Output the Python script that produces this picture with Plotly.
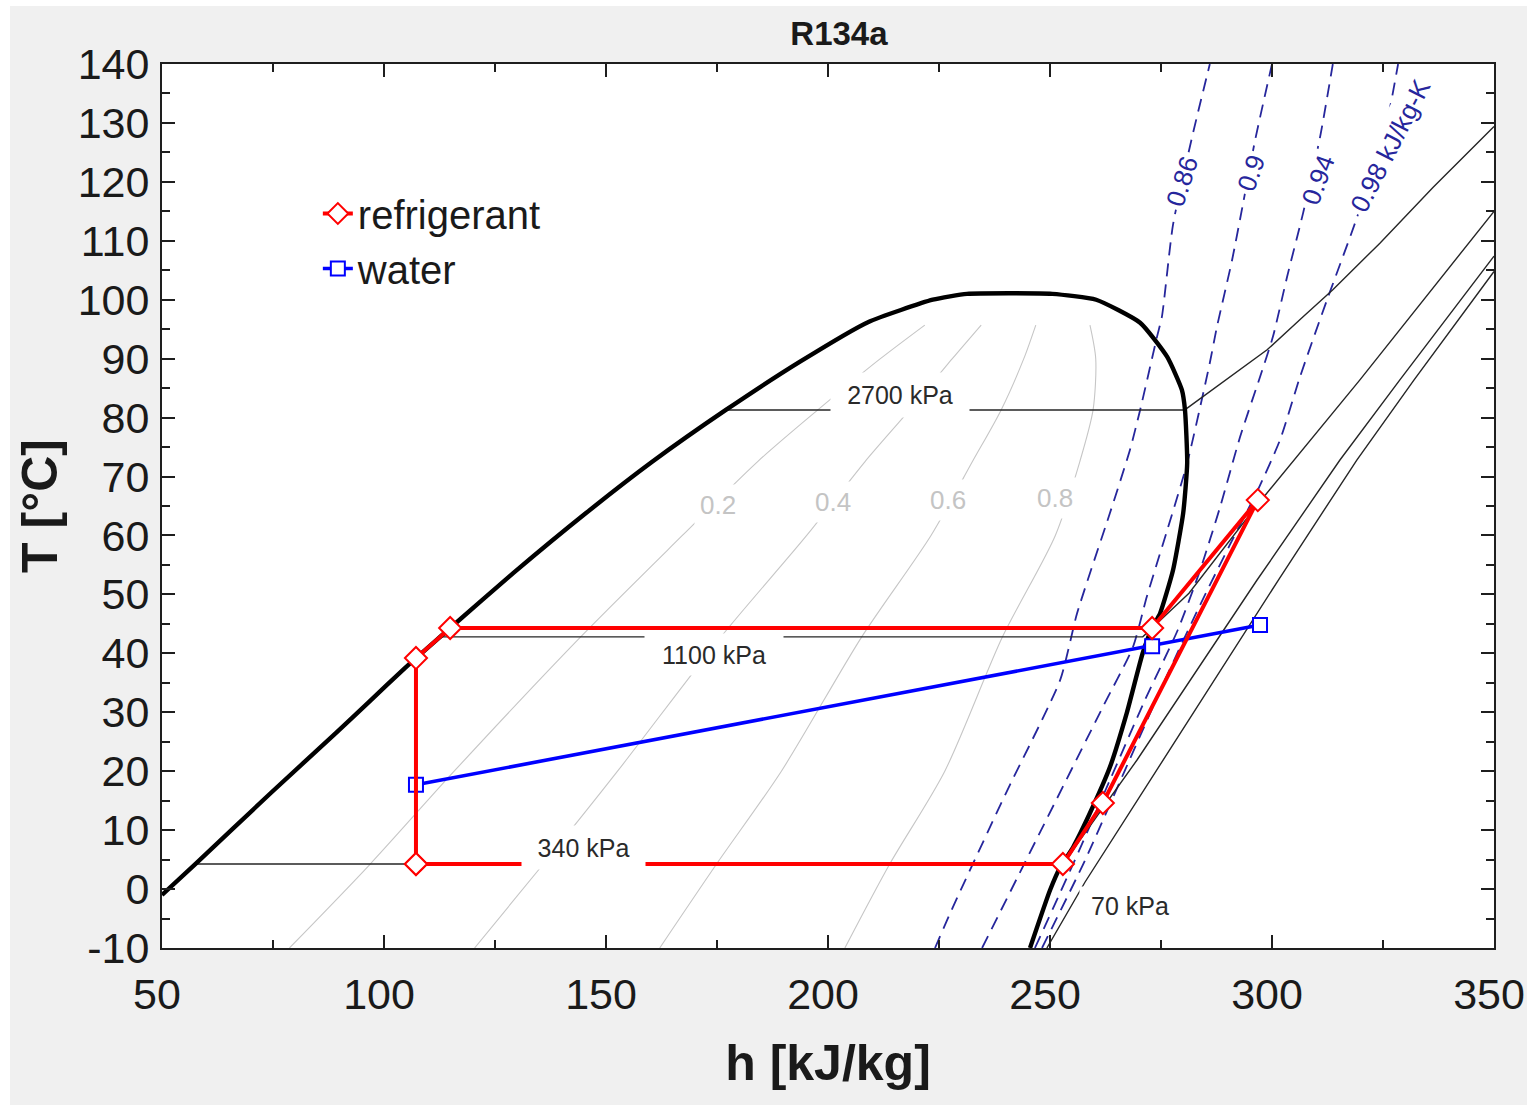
import plotly.graph_objects as go

# ---------------- data ----------------
# saturation dome (h kJ/kg, T degC)
DOME_H = [50.0, 57.5, 74.5, 89.2, 96.4, 104.7, 107.2, 114.9, 129.1, 145.5, 160.4, 177.0,
          193.7, 209.0, 223.6, 231.3, 241.0, 250.5, 260.4, 270.3, 276.4, 279.7, 280.4,
          280.9, 280.0, 277.7, 274.8, 273.0, 270.9, 267.3, 263.5, 259.0, 255.2, 252.3,
          250.0, 245.5]
DOME_T = [-1.0, 4.25, 16.3, 26.5, 31.6, 37.5, 39.2, 44.3, 53.6, 63.8, 72.5, 81.3,
          89.5, 96.2, 100.0, 101.0, 101.1, 101.0, 100.0, 96.1, 90.3, 84.7, 81.3,
          72.3, 63.8, 54.1, 46.8, 44.3, 40.1, 29.9, 20.7, 12.9, 7.1, 3.7,
          -0.2, -10.0]

# lines of constant quality
QUAL_T = [-10, 4.25, 20, 42.8, 60, 72.5, 81.3, 90, 95.7]
Q02_H = [78.7, 96.9, 115.8, 144.3, 167.2, 184.1, 197.7, 211.8, 221.8]
Q04_H = [120.4, 135.9, 152.6, 175.9, 195.2, 208.3, 218.4, 228.0, 234.5]
Q06_H = [162.1, 174.9, 189.5, 207.6, 223.2, 232.5, 239.0, 244.1, 246.8]
Q08_H = [203.8, 213.9, 226.3, 239.3, 251.2, 256.7, 259.7, 260.3, 259.0]
QUAL_LABELS = ["0.2", "0.4", "0.6", "0.8"]
QUAL_LABEL_H = [175.2, 201.1, 227.0, 251.1]
QUAL_LABEL_T = [65.2, 65.7, 66.0, 66.4]

# isobars
P2700_H = [177.0, 280.4, 280.9, 298.9, 307.0, 313.7, 324.3, 336.3, 350.0]
P2700_T = [81.3, 81.3, 81.6, 91.5, 97.1, 101.7, 109.6, 119.1, 129.4]
P1100_H = [113.0, 270.9, 281.3, 296.8, 319.8, 350.0]
P1100_T = [42.8, 42.8, 50.2, 65.3, 86.4, 115.0]
P340_H = [57.5, 252.9, 269.6, 296.6, 315.3, 328.8, 350.0]
P340_T = [4.25, 4.25, 21.9, 52.4, 72.8, 86.4, 107.4]
P70_H = [249.3, 257.9, 301.4, 319.1, 332.0, 350.0]
P70_T = [-10.0, 1.2, 52.4, 72.8, 86.4, 104.8]
PRESS_LABELS = ["2700 kPa", "1100 kPa", "340 kPa", "70 kPa"]
PRESS_LABEL_H = [216.2, 174.3, 144.9, 268.0]
PRESS_LABEL_T = [83.8, 39.8, 7.1, -2.9]

# isentropes (kJ/kg-K)
S086_H = [224.1, 227.5, 239.9, 252.3, 256.1, 263.5, 268.0, 270.3, 274.1, 275.2, 277.7, 282.0, 286.0]
S086_T = [-10.0, -4.1, 16.0, 35.5, 46.8, 63.8, 74.5, 81.3, 93.7, 97.1, 112.7, 127.6, 140.0]
S090_H = [234.7, 248.0, 261.9, 268.7, 271.8, 276.4, 280.9, 286.0, 287.6, 291.0, 293.5, 296.2, 300.0]
S090_T = [-10.0, 10.0, 30.9, 41.1, 49.6, 60.9, 72.3, 89.3, 95.4, 106.7, 116.4, 127.1, 140.0]
S094_H = [246.6, 255.6, 263.5, 271.4, 278.8, 283.8, 288.3, 292.8, 297.3, 300.2, 303.4, 307.0, 310.8, 313.7]
S094_T = [-10.0, 4.9, 18.5, 32.1, 44.0, 54.1, 64.8, 76.7, 86.9, 93.7, 103.9, 114.7, 127.5, 140.0]
S098_H = [248.2, 257.9, 266.9, 275.9, 283.8, 290.5, 296.8, 301.8, 306.3, 312.4, 318.7, 325.5, 328.4]
S098_T = [-10.0, 4.9, 20.2, 35.5, 48.2, 58.4, 67.7, 76.2, 86.9, 100.0, 113.0, 128.8, 140.0]
S_LABELS = ["0.86", "0.9", "0.94", "0.98 kJ/kg-K"]
S_LABEL_H = [279.7, 295.3, 310.4, 326.6]
S_LABEL_T = [120.2, 121.5, 120.3, 126.1]

# cycle states
REF_H = [107.2, 252.9, 261.9, 296.8, 273.0, 114.9, 107.2, 107.2]
REF_T = [4.25, 4.25, 14.6, 66.0, 44.3, 44.3, 39.2, 4.25]
WAT_H = [107.2, 273.0, 297.3]
WAT_T = [17.7, 41.2, 44.8]

X_TICKS = [50, 100, 150, 200, 250, 300, 350]
Y_TICKS = [-10, 0, 10, 20, 30, 40, 50, 60, 70, 80, 90, 100, 110, 120, 130, 140]
Y_TICK_TEXT = ["-10", "0", "10", "20", "30", "40", "50", "60", "70", "80", "90",
               "100", "110", "120", "130", "140"]

# ---------------- styling ----------------
FONT = "Liberation Sans, Arial, sans-serif"
GRAY_Q = "#c6c6c6"
NAVY = "#26269c"
INK = "#1a1a1a"

fig = go.Figure()

for qh in (Q02_H, Q04_H, Q06_H, Q08_H):
    fig.add_trace(go.Scatter(x=qh, y=QUAL_T, mode="lines", showlegend=False,
                             hoverinfo="skip",
                             line=dict(color=GRAY_Q, width=1.1, shape="spline", smoothing=0.8)))

for sh, st in ((S086_H, S086_T), (S090_H, S090_T), (S094_H, S094_T), (S098_H, S098_T)):
    fig.add_trace(go.Scatter(x=sh, y=st, mode="lines", showlegend=False, hoverinfo="skip",
                             line=dict(color=NAVY, width=1.8, dash="13px,8px",
                                       shape="spline", smoothing=0.6)))

for ph, pt in ((P2700_H, P2700_T), (P1100_H, P1100_T), (P340_H, P340_T), (P70_H, P70_T)):
    fig.add_trace(go.Scatter(x=ph, y=pt, mode="lines", showlegend=False, hoverinfo="skip",
                             line=dict(color="#262626", width=1.4)))

fig.add_trace(go.Scatter(x=DOME_H, y=DOME_T, mode="lines", showlegend=False, hoverinfo="skip",
                         line=dict(color="black", width=4.4, shape="spline", smoothing=0.5)))

fig.add_trace(go.Scatter(x=WAT_H, y=WAT_T, mode="lines+markers", name="water",
                         legendrank=2,
                         line=dict(color="#0000ff", width=3.6),
                         marker=dict(symbol="square", size=14, color="white",
                                     line=dict(color="#0000ff", width=2))))

fig.add_trace(go.Scatter(x=REF_H, y=REF_T, mode="lines+markers", name="refrigerant",
                         legendrank=1,
                         line=dict(color="#ff0000", width=4),
                         marker=dict(symbol="diamond", size=17, color="white",
                                     line=dict(color="#ff0000", width=2))))

annotations = []
for txt, hx, ty in zip(QUAL_LABELS, QUAL_LABEL_H, QUAL_LABEL_T):
    annotations.append(dict(x=hx, y=ty, xref="x", yref="y", text=txt, showarrow=False,
                            font=dict(family=FONT, size=26, color="#c4c4c4"),
                            bgcolor="white", borderpad=5))

press_boxes = [(138, 44), (138, 41), (123, 43), (100, 38)]
for txt, hx, ty, (bw, bh) in zip(PRESS_LABELS, PRESS_LABEL_H, PRESS_LABEL_T, press_boxes):
    annotations.append(dict(x=hx, y=ty, xref="x", yref="y", text=txt, showarrow=False,
                            font=dict(family=FONT, size=25, color="#2a2a2a"),
                            bgcolor="white", borderpad=0, width=bw, height=bh))

s_angles = [-72, -71, -70, -63]
for txt, hx, ty, ang in zip(S_LABELS, S_LABEL_H, S_LABEL_T, s_angles):
    annotations.append(dict(x=hx, y=ty, xref="x", yref="y", text=txt, showarrow=False,
                            textangle=ang,
                            font=dict(family=FONT, size=26, color=NAVY),
                            bgcolor="white", borderpad=3))

shapes = [
    dict(type="rect", xref="paper", yref="paper", x0=-0.13, x1=-0.1141, y0=-0.2, y1=1.1,
         fillcolor="white", line=dict(width=0), layer="above"),
    dict(type="rect", xref="paper", yref="paper", x0=-0.13, x1=1.03, y0=1.0656, y1=1.1,
         fillcolor="white", line=dict(width=0), layer="above"),
    dict(type="rect", xref="paper", yref="paper", x0=-0.13, x1=1.03, y0=-0.2, y1=-0.1776,
         fillcolor="white", line=dict(width=0), layer="above"),
]

axis_common = dict(showgrid=False, zeroline=False, showline=True, linecolor="#1e1e1e",
                   linewidth=2, mirror="ticks", ticks="inside", ticklen=13, tickwidth=2,
                   tickcolor="#1e1e1e", ticklabeloverflow="allow", automargin=False,
                   tickfont=dict(family=FONT, size=43, color=INK))

fig.update_layout(
    width=1527, height=1108,
    margin=dict(l=162, r=33, t=64, b=160, autoexpand=False),
    paper_bgcolor="#f0f0f0",
    plot_bgcolor="white",
    font=dict(family=FONT, color=INK),
    title=dict(text="<b>R134a</b>", x=0.5494, xref="container", xanchor="center",
               y=0.9702, yref="container", yanchor="middle",
               font=dict(family=FONT, size=33, color=INK)),
    xaxis=dict(range=[50, 350], tickmode="array", tickvals=X_TICKS,
               ticklabelstandoff=7, ticklabelshift=-5,
               minor=dict(dtick=25, tick0=50, ticks="inside", ticklen=8, tickwidth=2,
                          tickcolor="#1e1e1e"),
               title=dict(text="<b>h [kJ/kg]</b>", standoff=28,
                          font=dict(family=FONT, size=50, color=INK)),
               **axis_common),
    yaxis=dict(range=[-10, 140], tickmode="array", tickvals=Y_TICKS, ticktext=Y_TICK_TEXT,
               ticklabelstandoff=2,
               minor=dict(dtick=5, tick0=-10, ticks="inside", ticklen=8, tickwidth=2,
                          tickcolor="#1e1e1e"),
               title=dict(text="<b>T [°C]</b>", standoff=4,
                          font=dict(family=FONT, size=50, color=INK)),
               **axis_common),
    legend=dict(x=0.117, y=0.8676, xanchor="left", yanchor="top",
                bgcolor="rgba(0,0,0,0)", font=dict(family=FONT, size=40, color=INK),
                tracegroupgap=0),
    annotations=annotations,
    shapes=shapes,
)

fig.write_html("out.html")
